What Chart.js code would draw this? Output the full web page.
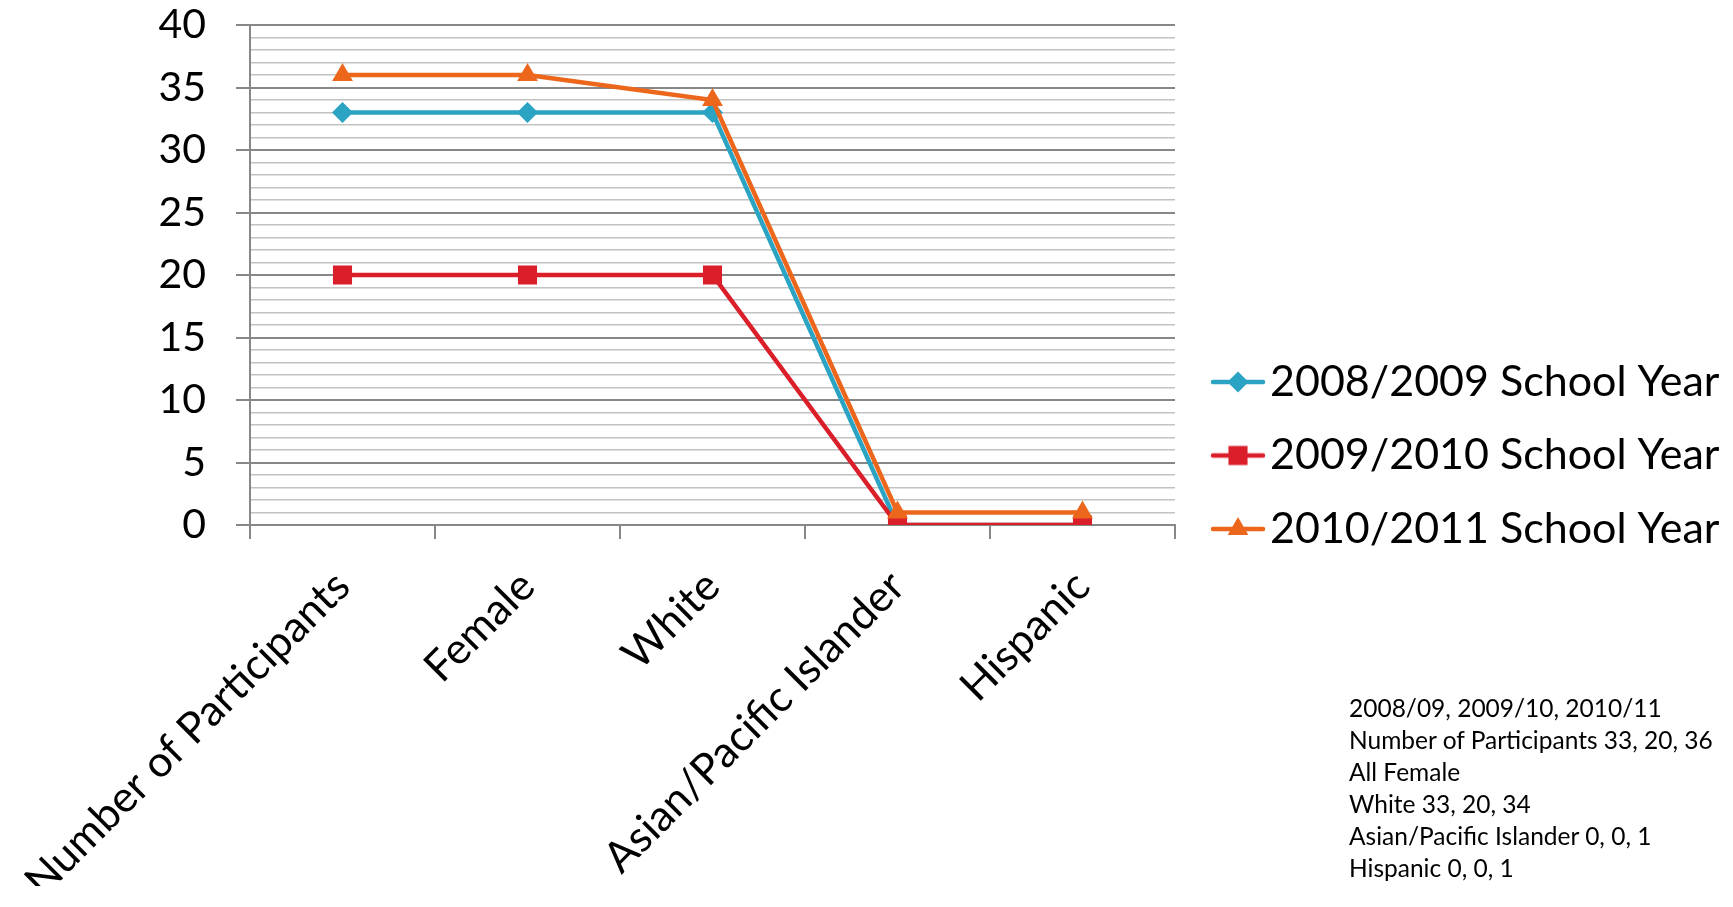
<!DOCTYPE html>
<html>
<head>
<meta charset="utf-8">
<title>Participants by School Year</title>
<script src="https://cdn.jsdelivr.net/npm/chart.js@4.4.0/dist/chart.umd.min.js"></script>
<style>
  body { margin: 0; background: #fff; }
  #wrap { position: relative; width: 1733px; height: 907px; }
  #note {
    position: absolute; left: 1349px; top: 692px;
    font-family: Lato, sans-serif; font-size: 24.5px; line-height: 32px;
    color: #000; white-space: nowrap;
  }
</style>
</head>
<body>
<div id="wrap">
  <canvas id="chart" width="1733" height="907"></canvas>
  <div id="note"></div>
</div>
<script>
// data
const categories = ['Number of Participants', 'Female', 'White', 'Asian/Pacific Islander', 'Hispanic'];
const seriesNames = ['2008/2009 School Year', '2009/2010 School Year', '2010/2011 School Year'];
const year0809 = [33, 33, 33, 0, 0];
const year0910 = [20, 20, 20, 0, 0];
const year1011 = [36, 36, 34, 1, 1];
const yMin = 0, yMax = 40, majorStep = 5, minorStep = 1;
const noteLines = [
    '2008/09, 2009/10, 2010/11',
    'Number of Participants 33, 20, 36',
    'All Female',
    'White 33, 20, 34',
    'Asian/Pacific Islander 0, 0, 1',
    'Hispanic 0, 0, 1'
];

const colors = ['#2ba3c2', '#da1f2b', '#ec661b'];
const markers = [
    { style: 'rectRot', radius: 10.5 },
    { style: 'rect', radius: 13.5 },
    { style: 'triangle', radius: 12 }
];
const majorGrid = '#878787';
const minorGrid = '#c2c2c2';
const plotLeft = 250, plotRight = 1175, plotBottom = 525;

document.getElementById('note').innerHTML = noteLines.map(t => `<div>${t}</div>`).join('');

Chart.defaults.font.family = 'Lato, sans-serif';
Chart.defaults.color = '#000';

// legend icon: short line with the marker in the middle
function makeIcon(color, marker) {
    const c = document.createElement('canvas');
    c.width = 78;
    c.height = 30;
    const g = c.getContext('2d');
    g.strokeStyle = color;
    g.lineWidth = 4.5;
    g.lineCap = 'round';
    g.beginPath();
    g.moveTo(25, 15);
    g.lineTo(75, 15);
    g.stroke();
    g.fillStyle = color;
    Chart.helpers.drawPoint(g, { pointStyle: marker.style, radius: marker.radius, rotation: 0, borderWidth: 0 }, 50, 15);
    return c;
}
const legendIcons = colors.map((c, i) => makeIcon(c, markers[i]));

const seriesData = [year0809, year0910, year1011];
const datasets = seriesData.map((d, i) => ({
    label: seriesNames[i],
    data: d,
    borderColor: colors[i],
    backgroundColor: colors[i],
    borderWidth: 4.5,
    tension: 0,
    pointStyle: markers[i].style,
    pointRadius: markers[i].radius,
    pointHoverRadius: markers[i].radius,
    pointBorderWidth: 0,
    order: 3 - i
}));

const isMajor = v => v % majorStep === 0;

const chart = new Chart(document.getElementById('chart'), {
    type: 'line',
    data: { labels: categories, datasets: datasets },
    options: {
        responsive: false,
        animation: false,
        events: [],
        layout: { padding: { left: 0, top: 25, right: 15, bottom: 21 } },
        scales: {
            x: {
                offset: true,
                grid: {
                    offset: true,
                    drawOnChartArea: false,
                    drawTicks: true,
                    tickLength: 14,
                    color: majorGrid,
                    lineWidth: 2
                },
                border: { color: majorGrid, width: 2 },
                ticks: {
                    autoSkip: false,
                    minRotation: 45,
                    maxRotation: 45,
                    padding: 22,
                    font: { size: 43 }
                },
                afterFit(scale) {
                    scale.height = 907 - 21 - plotBottom;
                    scale.paddingLeft = 0;
                    scale.paddingRight = 0;
                }
            },
            y: {
                min: yMin,
                max: yMax,
                grid: {
                    color: ctx => isMajor(ctx.tick.value) ? majorGrid : minorGrid,
                    tickColor: ctx => isMajor(ctx.tick.value) ? majorGrid : 'rgba(0,0,0,0)',
                    lineWidth: ctx => isMajor(ctx.tick.value) ? 2 : 1.5,
                    tickLength: 14
                },
                border: { color: majorGrid, width: 2 },
                ticks: {
                    stepSize: minorStep,
                    autoSkip: false,
                    padding: 30,
                    font: { size: 41 },
                    callback: v => isMajor(v) ? String(v) : ''
                },
                afterFit(scale) {
                    scale.width = plotLeft;
                    scale.paddingTop = 0;
                    scale.paddingBottom = 0;
                }
            }
        },
        plugins: {
            legend: {
                position: 'right',
                maxWidth: 800,
                labels: {
                    usePointStyle: true,
                    pointStyleWidth: 43,
                    padding: 30.5,
                    color: '#000',
                    font: { size: 43 },
                    generateLabels(ch) {
                        const items = Chart.defaults.plugins.legend.labels.generateLabels(ch);
                        items.forEach(it => { it.pointStyle = legendIcons[it.datasetIndex]; });
                        return items;
                    },
                    sort: (a, b) => a.datasetIndex - b.datasetIndex
                }
            },
            tooltip: { enabled: false }
        }
    }
});

// fit the plot's right edge to where the original has it
const shift = chart.chartArea.right - plotRight;
if (Math.abs(shift) > 0.5) {
    chart.options.layout.padding.right += shift;
    chart.update();
}
</script>
</body>
</html>
